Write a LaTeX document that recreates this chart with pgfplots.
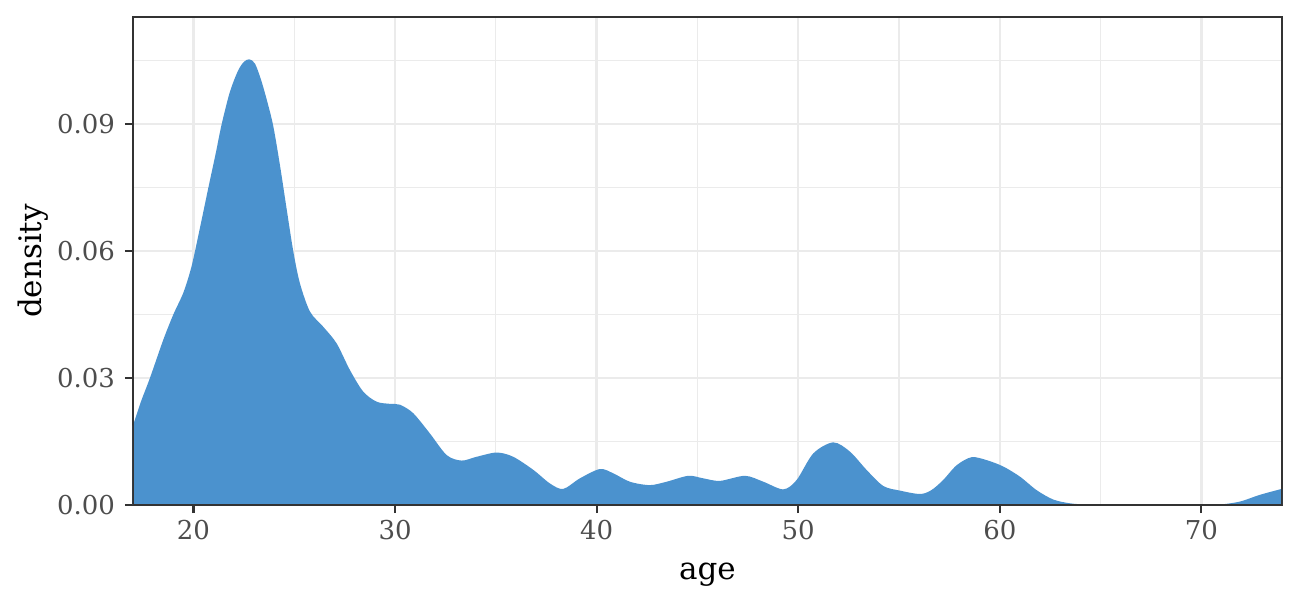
\documentclass[border=0pt]{standalone}
\usepackage{fontspec}
\setmainfont{DejaVu Serif}
\usepackage{pgfplots}
\pgfplotsset{compat=1.18}
\definecolor{gray20}{HTML}{333333}
\definecolor{gray30}{HTML}{4D4D4D}
\definecolor{gray92}{HTML}{EBEBEB}
\definecolor{steel}{HTML}{4B92CE}
\begin{document}
\begin{tikzpicture}
\begin{axis}[
    name=ax,
    scale only axis,
    width=574.5pt, height=244pt,
    xmin=17, xmax=74, ymin=0, ymax=0.1153,
    xtick={20,30,40,50,60,70},
    minor xtick={25,35,45,55,65},
    ytick={0,0.03,0.06,0.09},
    yticklabels={0.00,0.03,0.06,0.09},
    minor ytick={0.015,0.045,0.075,0.105},
    grid=both,
    major grid style={color=gray92, line width=1.25pt},
    minor grid style={color=gray92, line width=0.65pt},
    xtick pos=bottom, ytick pos=left,
    tick align=outside,
    major tick length=4pt, minor tick length=0pt,
    tick style={gray20, line width=1.1pt},
    axis line style={gray20, line width=1pt},
    /pgf/number format/assume math mode=true,
    ticklabel style={font=\fontsize{13}{15}\selectfont, text=gray30},
    yticklabel style={xshift=-1.5pt},
]
\addplot[fill=steel, draw=none, smooth, tension=0.5] table {
x y
17.00 0.0188
17.40 0.0245
17.84 0.0300
18.50 0.0390
19.00 0.0450
19.50 0.0502
19.90 0.0563
20.30 0.0650
20.74 0.0750
21.10 0.0830
21.40 0.0900
21.80 0.0975
22.20 0.1025
22.50 0.1047
22.77 0.1053
23.05 0.1043
23.35 0.1005
23.65 0.0955
23.96 0.0895
24.30 0.0800
24.62 0.0700
24.95 0.0600
25.28 0.0524
25.78 0.0457
26.44 0.0421
27.10 0.0382
27.76 0.0319
28.42 0.0268
29.09 0.0244
29.75 0.0239
30.24 0.0237
30.90 0.0217
31.73 0.0169
32.56 0.0118
33.30 0.0105
34.05 0.0114
35.04 0.0124
35.86 0.0114
36.86 0.0083
37.68 0.0051
38.34 0.0038
39.17 0.0063
40.16 0.0085
40.82 0.0075
41.65 0.0055
42.64 0.0047
43.47 0.0055
44.55 0.0069
45.29 0.0063
46.12 0.0057
47.36 0.0069
48.27 0.0055
49.26 0.0037
49.92 0.0059
50.75 0.0122
51.74 0.0148
52.57 0.0126
53.39 0.0083
54.22 0.0045
55.05 0.0034
56.04 0.0026
56.60 0.0035
57.19 0.0059
57.86 0.0094
58.60 0.0113
59.35 0.0106
60.17 0.0091
61.00 0.0067
61.83 0.0035
62.65 0.0013
63.48 0.0004
64.30 0.0001
65.00 0.0000
70.00 0.0000
70.90 0.0001
71.90 0.0008
72.90 0.0024
73.90 0.0037
74.00 0.0038
} \closedcycle;
% frame again, above the filled area
\draw[gray20, line width=1pt] (rel axis cs:0,0) rectangle (rel axis cs:1,1);
\end{axis}
\node[rotate=90, anchor=base, font=\fontsize{15.5}{18}\selectfont] at ([xshift=-45.6pt]ax.west) {density};
\node[anchor=base, font=\fontsize{15.5}{18}\selectfont] at ([yshift=-37.15pt]ax.south) {age};
\path (ax.south west) ++(-66.5pt,-51pt) rectangle ([shift={(9pt,8.5pt)}]ax.north east);
\end{tikzpicture}
\end{document}
